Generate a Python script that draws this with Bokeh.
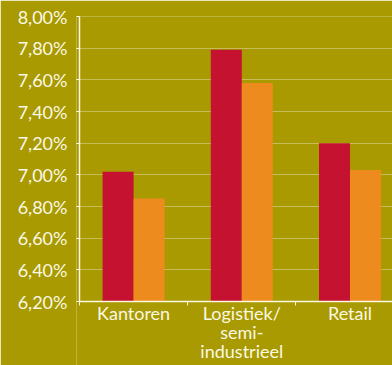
from bokeh.plotting import figure
from bokeh.models import FixedTicker, Range1d, ColumnDataSource
from bokeh.core.properties import value
from bokeh.embed import file_html
from bokeh.resources import INLINE

categories = ["Kantoren", "Logistiek/\nsemi-\nindustrieel", "Retail"]
series_a = [7.02, 7.79, 7.20]   # red
series_b = [6.85, 7.58, 7.03]   # orange
y_ticks = [6.2, 6.4, 6.6, 6.8, 7.0, 7.2, 7.4, 7.6, 7.8, 8.0]
y_tick_labels = ["6,20%", "6,40%", "6,60%", "6,80%", "7,00%", "7,20%", "7,40%", "7,60%", "7,80%", "8,00%"]

BG = "#A89A00"
RED = "#C41230"
ORANGE = "#EE8B1F"
TXT = "#FBF8E4"
FONT = "Lato"

W, H, TOP, BOTTOM_PAD, LEFT = 392, 365, 16, 64, 76
AXIS_X = 79          # pixel column of the value axis line
CAT_PX = 108.2       # pixel width of one category
y0, y1 = y_ticks[0], y_ticks[-1]
px_per_unit = (H - TOP - BOTTOM_PAD) / (y1 - y0)
y_start = y0 - BOTTOM_PAD / px_per_unit  # frame extends to the bottom, room for category names
x_start = -(AXIS_X - LEFT) / CAT_PX
x_end = x_start + (W - LEFT) / CAT_PX

p = figure(width=W, height=H, output_backend="svg", toolbar_location=None,
           x_range=Range1d(x_start, x_end), y_range=Range1d(y_start, y1),
           min_border_left=LEFT, min_border_right=0, min_border_top=TOP, min_border_bottom=0)
p.background_fill_color = BG
p.border_fill_color = BG
p.outline_line_color = None

n = len(categories)
centers = [i + 0.5 for i in range(n)]
bw = 0.2865
src = ColumnDataSource(dict(
    xa=[c - bw / 2 for c in centers], xb=[c + bw / 2 for c in centers],
    a=series_a, b=series_b))
p.vbar(x="xa", top="a", bottom=y0, width=bw, source=src, fill_color=RED, line_color=None)
p.vbar(x="xb", top="b", bottom=y0, width=bw, source=src, fill_color=ORANGE, line_color=None)

# y axis: ticks reach from the frame edge to the axis line, which is a segment at x=0
p.yaxis.ticker = FixedTicker(ticks=y_ticks)
p.yaxis.major_label_overrides = {t: l for t, l in zip(y_ticks, y_tick_labels)}
p.yaxis.axis_line_color = None
p.yaxis.major_tick_line_color = TXT
p.yaxis.major_tick_out = 0
p.yaxis.major_tick_in = AXIS_X - LEFT
p.yaxis.minor_tick_line_color = None
p.yaxis.major_label_text_color = TXT
p.yaxis.major_label_text_font = FONT
p.yaxis.major_label_text_font_size = "18px"
p.yaxis.major_label_standoff = 9
p.segment(x0=[0], y0=[y0], x1=[0], y1=[y1], line_color=TXT, line_width=1.5)

# x axis placed at the baseline, boundary ticks only
p.xaxis.fixed_location = y0
p.xaxis.bounds = (0, n)
p.xaxis.ticker = FixedTicker(ticks=list(range(n + 1)))
p.xaxis.major_label_overrides = {i: "" for i in range(n + 1)}
p.xaxis.major_label_standoff = 0
p.xaxis.axis_line_color = TXT
p.xaxis.axis_line_width = 1.5
p.xaxis.major_tick_line_color = TXT
p.xaxis.major_tick_out = 4
p.xaxis.major_tick_in = 0
p.xaxis.minor_tick_line_color = None

lab = ColumnDataSource(dict(x=centers, y=[y0] * n, t=categories))
p.text(x="x", y="y", text="t", source=lab, y_offset=0,
       text_align="center", text_baseline="top", text_color=TXT,
       text_font=value(FONT), text_font_size="18px", text_line_height=0.88)

p.xgrid.grid_line_color = None
p.ygrid.ticker = FixedTicker(ticks=y_ticks)
p.ygrid.bounds = (0, x_end)
p.ygrid.grid_line_color = "#FFFFFF"
p.ygrid.grid_line_alpha = 0.7
p.ygrid.grid_line_dash = "1 1"
p.ygrid.level = "underlay"

open("out.html", "w").write(file_html(p, INLINE))
